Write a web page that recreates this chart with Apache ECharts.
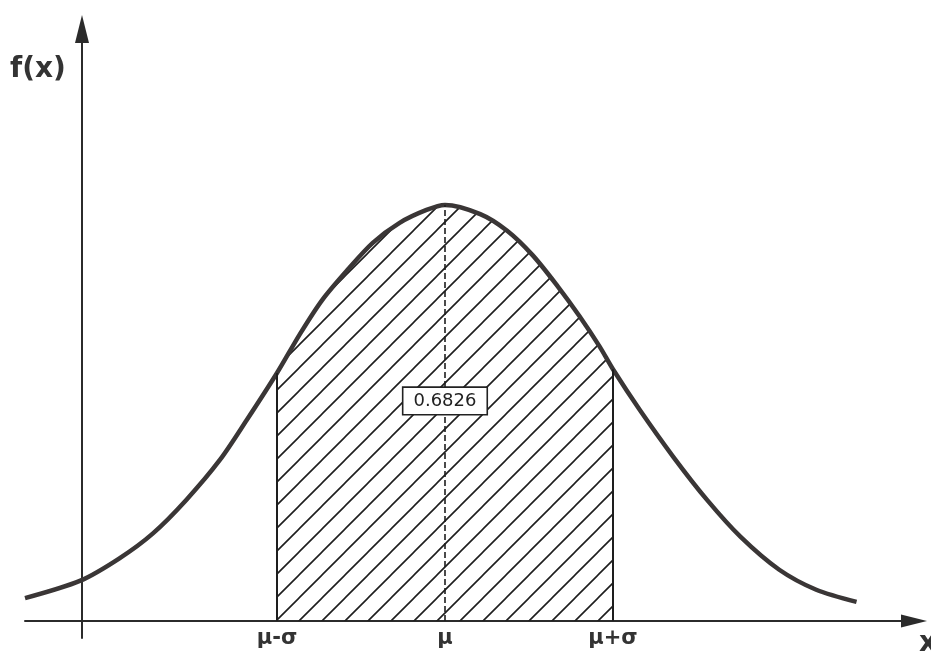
<!DOCTYPE html>
<html>
<head>
<meta charset="utf-8">
<script src="https://cdn.jsdelivr.net/npm/echarts@6/dist/echarts.min.js"></script>
<style>
  html, body { margin: 0; padding: 0; background: #fff; }
  #chart { width: 931px; height: 651px; }
</style>
</head>
<body>
<div id="chart"></div>
<script>
// x in units of sigma (mu = 0), y relative to the peak height
const curveX = [-2.50, -2.17, -1.94, -1.74, -1.54, -1.34, -1.18, -1.00, -0.86, -0.73, -0.58, -0.43, -0.27, -0.11, 0.00,
  0.21, 0.37, 0.52, 0.67, 0.80, 0.92, 1.00, 1.16, 1.36, 1.56, 1.76, 1.99, 2.21, 2.45]
const curveY = [0.055, 0.097, 0.150, 0.210, 0.291, 0.387, 0.483, 0.596, 0.692, 0.772, 0.844, 0.909, 0.957, 0.988, 1.000,
  0.978, 0.938, 0.880, 0.805, 0.733, 0.660, 0.605, 0.507, 0.394, 0.291, 0.202, 0.123, 0.075, 0.046]

const tickValues = [-1, 0, 1]
const tickLabels = ['μ-σ', 'μ', 'μ+σ']

const areaLabel = '0.6826'
const areaLabelY = 0.529

const ink = '#2b2b2b'
const font = '"DejaVu Sans", sans-serif'

// hatch pattern (diagonal lines)
const makeHatch = () => {
  const s = 23
  const c = document.createElement('canvas')
  c.width = s
  c.height = s
  const ctx = c.getContext('2d')
  ctx.strokeStyle = '#1e1e1e'
  ctx.lineWidth = 1.6
  ctx.beginPath()
  ctx.moveTo(0, s); ctx.lineTo(s, 0)
  ctx.moveTo(-s / 2, s / 2); ctx.lineTo(s / 2, -s / 2)
  ctx.moveTo(s / 2, s * 1.5); ctx.lineTo(s * 1.5, s / 2)
  ctx.stroke()
  return c
}

const curve = curveX.map((x, i) => [x, curveY[i]])
const hatched = curve.filter(p => p[0] >= -1 && p[0] <= 1)
const yAt = x => curveY[curveX.indexOf(x)]

const chart = echarts.init(document.getElementById('chart'))

chart.setOption({
  animation: false,
  backgroundColor: '#fff',
  grid: { left: 25, right: 17, top: 29, bottom: 13, outerBoundsMode: 'none', containLabel: false },
  xAxis: {
    type: 'value',
    min: -2.5,
    max: 2.792,
    axisLine: {
      onZero: true,
      symbol: ['none', 'triangle'],
      symbolSize: [13, 26],
      lineStyle: { color: ink, width: 2 }
    },
    axisTick: { show: false },
    splitLine: { show: false },
    axisLabel: {
      customValues: tickValues,
      formatter: v => tickLabels[tickValues.indexOf(v)] || '',
      color: '#333',
      fontFamily: font,
      fontWeight: 'bold',
      fontSize: 21,
      margin: -10
    }
  },
  yAxis: {
    type: 'value',
    min: -0.041,
    max: 1.423,
    offset: -57,
    axisLine: {
      onZero: false,
      symbol: ['none', 'triangle'],
      symbolSize: [14, 28],
      lineStyle: { color: ink, width: 2 }
    },
    axisTick: { show: false },
    axisLabel: { show: false },
    splitLine: { show: false }
  },
  graphic: [
    { type: 'text', left: 10, top: 56, style: { text: 'f(x)', font: 'bold 28px "DejaVu Sans", sans-serif', fill: '#333' } },
    { type: 'text', left: 919, top: 630, style: { text: 'x', font: 'bold 28px "DejaVu Sans", sans-serif', fill: '#333' } }
  ],
  series: [
    {
      type: 'line',
      data: hatched,
      smooth: 0.3,
      symbol: 'none',
      z: 2,
      lineStyle: { width: 0 },
      areaStyle: { origin: 0, opacity: 1, color: { image: makeHatch(), repeat: 'repeat' } },
      markLine: {
        silent: true,
        symbol: ['none', 'none'],
        label: { show: false },
        lineStyle: { color: '#1e1e1e', width: 2, type: 'solid' },
        data: [
          [{ coord: [-1, 0] }, { coord: [-1, yAt(-1)] }],
          [{ coord: [1, 0] }, { coord: [1, yAt(1)] }],
          [{ coord: [0, 0], lineStyle: { type: [6, 3], width: 1.6 } }, { coord: [0, yAt(0)] }]
        ]
      }
    },
    {
      type: 'line',
      data: curve,
      smooth: 0.3,
      symbol: 'none',
      z: 3,
      lineStyle: { color: '#3a3636', width: 4.5 },
      markPoint: {
        silent: true,
        symbolSize: 0,
        data: [{ coord: [0, areaLabelY], value: areaLabel }],
        label: {
          show: true,
          position: 'inside',
          formatter: areaLabel,
          color: '#222',
          fontFamily: font,
          fontSize: 18,
          backgroundColor: '#fff',
          borderColor: '#222',
          borderWidth: 1.6,
          padding: [4, 10]
        }
      }
    }
  ]
})
</script>
</body>
</html>
